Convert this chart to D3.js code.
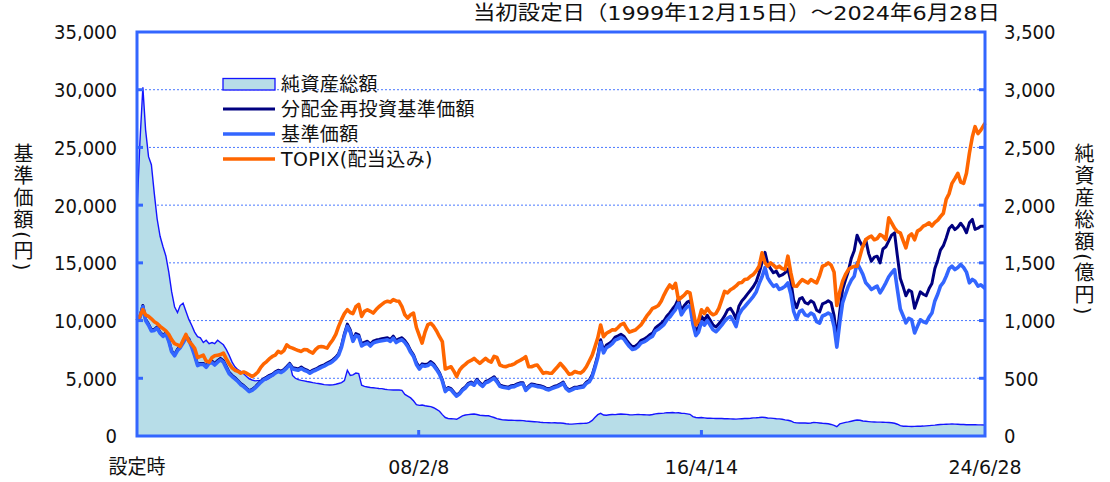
<!DOCTYPE html>
<html>
<head>
<meta charset="utf-8">
<script src="https://cdn.jsdelivr.net/npm/d3@7"></script>
<style>
  body { margin: 0; background: #fff; }
</style>
</head>
<body>
<svg id="chart" width="1110" height="482"></svg>
<script>
  // monthly points, 15th of each month, from launch to the last date
  const dates = ["1999-12-15",
    "2000-01","2000-02","2000-03","2000-04","2000-05","2000-06","2000-07","2000-08","2000-09","2000-10","2000-11","2000-12",
    "2001-01","2001-02","2001-03","2001-04","2001-05","2001-06","2001-07","2001-08","2001-09","2001-10","2001-11","2001-12",
    "2002-01","2002-02","2002-03","2002-04","2002-05","2002-06","2002-07","2002-08","2002-09","2002-10","2002-11","2002-12",
    "2003-01","2003-02","2003-03","2003-04","2003-05","2003-06","2003-07","2003-08","2003-09","2003-10","2003-11","2003-12",
    "2004-01","2004-02","2004-03","2004-04","2004-05","2004-06","2004-07","2004-08","2004-09","2004-10","2004-11","2004-12",
    "2005-01","2005-02","2005-03","2005-04","2005-05","2005-06","2005-07","2005-08","2005-09","2005-10","2005-11","2005-12",
    "2006-01","2006-02","2006-03","2006-04","2006-05","2006-06","2006-07","2006-08","2006-09","2006-10","2006-11","2006-12",
    "2007-01","2007-02","2007-03","2007-04","2007-05","2007-06","2007-07","2007-08","2007-09","2007-10","2007-11","2007-12",
    "2008-01","2008-02","2008-03","2008-04","2008-05","2008-06","2008-07","2008-08","2008-09","2008-10","2008-11","2008-12",
    "2009-01","2009-02","2009-03","2009-04","2009-05","2009-06","2009-07","2009-08","2009-09","2009-10","2009-11","2009-12",
    "2010-01","2010-02","2010-03","2010-04","2010-05","2010-06","2010-07","2010-08","2010-09","2010-10","2010-11","2010-12",
    "2011-01","2011-02","2011-03","2011-04","2011-05","2011-06","2011-07","2011-08","2011-09","2011-10","2011-11","2011-12",
    "2012-01","2012-02","2012-03","2012-04","2012-05","2012-06","2012-07","2012-08","2012-09","2012-10","2012-11","2012-12",
    "2013-01","2013-02","2013-03","2013-04","2013-05","2013-06","2013-07","2013-08","2013-09","2013-10","2013-11","2013-12",
    "2014-01","2014-02","2014-03","2014-04","2014-05","2014-06","2014-07","2014-08","2014-09","2014-10","2014-11","2014-12",
    "2015-01","2015-02","2015-03","2015-04","2015-05","2015-06","2015-07","2015-08","2015-09","2015-10","2015-11","2015-12",
    "2016-01","2016-02","2016-03","2016-04","2016-05","2016-06","2016-07","2016-08","2016-09","2016-10","2016-11","2016-12",
    "2017-01","2017-02","2017-03","2017-04","2017-05","2017-06","2017-07","2017-08","2017-09","2017-10","2017-11","2017-12",
    "2018-01","2018-02","2018-03","2018-04","2018-05","2018-06","2018-07","2018-08","2018-09","2018-10","2018-11","2018-12",
    "2019-01","2019-02","2019-03","2019-04","2019-05","2019-06","2019-07","2019-08","2019-09","2019-10","2019-11","2019-12",
    "2020-01","2020-02","2020-03","2020-04","2020-05","2020-06","2020-07","2020-08","2020-09","2020-10","2020-11","2020-12",
    "2021-01","2021-02","2021-03","2021-04","2021-05","2021-06","2021-07","2021-08","2021-09","2021-10","2021-11","2021-12",
    "2022-01","2022-02","2022-03","2022-04","2022-05","2022-06","2022-07","2022-08","2022-09","2022-10","2022-11","2022-12",
    "2023-01","2023-02","2023-03","2023-04","2023-05","2023-06","2023-07","2023-08","2023-09","2023-10","2023-11","2023-12",
    "2024-01","2024-02","2024-03","2024-04","2024-05","2024-06-28"];

  // 純資産総額 (億円)
  const netAssets = [1950,
    2550, 3020, 2650, 2420, 2350, 2100, 1880, 1730, 1640, 1560, 1420, 1250,
    1120, 1070, 1130, 1150, 1080, 1010, 960, 900, 860, 850, 810, 830,
    800, 810, 800, 830, 810, 790, 750, 700, 640, 600, 575, 560,
    540, 515, 495, 485, 478, 480, 482, 484, 486, 500, 520, 540,
    555, 560, 575, 590, 630, 525, 500, 488, 482, 478, 472, 468,
    462, 458, 455, 450, 445, 443, 442, 443, 448, 455, 462, 480,
    570, 525, 530, 545, 540, 440, 430, 425, 420, 418, 415, 412,
    410, 405, 402, 400, 398, 400, 398, 395, 360, 345, 330, 305,
    272, 265, 268, 262, 258, 254, 245, 230, 215, 185, 160, 152,
    150, 148, 145, 160, 175, 182, 185, 188, 190, 186, 180, 178,
    176, 175, 168, 160, 150, 145, 140, 139, 137, 136, 135, 134,
    134, 133, 130, 128, 126, 124, 122, 119, 117, 116, 115, 114,
    115, 113, 112, 110, 106, 104, 103, 105, 107, 108, 109, 110,
    118, 135, 160, 185, 196, 182, 180, 184, 186, 185, 188, 190,
    189, 187, 184, 183, 185, 186, 185, 184, 183, 182, 186, 192,
    195, 196, 198, 202, 201, 203, 200, 201, 197, 196, 192, 188,
    168, 160, 158, 160, 157, 154, 155, 153, 152, 151, 152, 150,
    149, 148, 147, 146, 148, 150, 151, 152, 154, 157, 158, 160,
    163, 160, 156, 155, 153, 150, 148, 145, 140, 136, 130, 118,
    114, 113, 112, 112, 110, 113, 118, 116, 113, 110, 108, 106,
    100, 92, 81, 105, 112, 118, 122, 128, 134, 139, 136, 130,
    128, 125, 122, 121, 120, 120, 119, 118, 117, 115, 110, 102,
    90, 85, 84, 83, 82, 83, 84, 85, 86, 88, 90, 92,
    94, 97, 100, 101, 102, 103, 104, 103, 102, 100, 99, 98,
    97, 98, 97, 96, 96, 95];

  // 分配金再投資基準価額 (円)
  const navReinvested = [10000,
    10350, 11310, 10100, 9700, 9190, 9240, 9440, 8990, 8720, 8940, 8280, 7370,
    7050, 7510, 7760, 8170, 8630, 8420, 7820, 7050, 6190, 6290, 6290, 6040,
    6430, 6480, 6270, 6530, 6730, 6530, 6020, 5510, 5250, 5050, 4810, 4540,
    4370, 4130, 3930, 4030, 4230, 4490, 4740, 4960, 5100, 5250, 5360, 5560,
    5700, 5610, 5760, 6020, 6290, 5920, 5870, 5810, 5970, 5810, 5710, 5550,
    5710, 5810, 5940, 6070, 6170, 6320, 6440, 6610, 6830, 7140, 7850, 8870,
    9690, 9180, 8360, 8870, 8770, 7960, 8110, 8210, 7960, 8210, 8310, 8360,
    8420, 8470, 8510, 8360, 8650, 8260, 8420, 8510, 8260, 7910, 7400, 7040,
    6360, 5950, 6250, 6200, 6250, 6450, 6250, 5890, 5480, 4870, 3950, 4200,
    4100, 3790, 3540, 3740, 4050, 4250, 4560, 4670, 4510, 4920, 4610, 4410,
    4720, 4820, 4970, 5130, 4820, 4410, 4330, 4280, 4230, 4360, 4390, 4510,
    4610, 4610, 4050, 4310, 4510, 4460, 4390, 4360, 4280, 4150, 4090, 4200,
    4310, 4390, 4510, 4670, 4200, 4000, 4100, 4230, 4250, 4310, 4360, 4660,
    4840, 5300, 6080, 7000, 8340, 7420, 7880, 8030, 8240, 8560, 8670, 8810,
    8650, 8290, 7980, 7730, 7780, 7970, 8290, 8390, 8550, 8760, 8910, 9370,
    9570, 9780, 9990, 10400, 10660, 11020, 11330, 11900, 10870, 11280, 11590, 11700,
    10140, 9090, 9410, 10350, 10030, 10450, 10050, 9610, 9450, 9720, 10030, 10400,
    10910, 11070, 10700, 10140, 11240, 11700, 11980, 12310, 12630, 12950, 13380, 14120,
    15040, 15910, 14930, 14500, 14140, 14280, 13840, 13950, 14140, 14450, 13410, 11770,
    11110, 11880, 11990, 11550, 11440, 11720, 11550, 10890, 10750, 11440, 11550, 11720,
    11550, 10430, 8470, 10780, 12680, 13530, 14280, 15390, 16050, 17400, 16820, 16380,
    17000, 15800, 15140, 15500, 15580, 15000, 16200, 16400, 16900, 17400, 17600, 15600,
    13640, 12900, 12150, 12650, 12490, 11070, 11780, 12490, 12280, 12150, 12770, 13210,
    14510, 15250, 16100, 16490, 17160, 17980, 18240, 17880, 18100, 18430, 18100, 17610,
    18470, 18760, 17900, 18000, 18180, 18180];

  // 基準価額 (円)
  const nav = [10000,
    10250, 11200, 10000, 9600, 9100, 9150, 9350, 8900, 8630, 8850, 8200, 7300,
    6950, 7400, 7650, 8050, 8500, 8300, 7700, 6950, 6100, 6200, 6200, 5950,
    6300, 6350, 6150, 6400, 6600, 6400, 5900, 5400, 5150, 4950, 4720, 4450,
    4280, 4050, 3850, 3950, 4150, 4400, 4650, 4860, 5000, 5150, 5250, 5450,
    5590, 5500, 5650, 5900, 6170, 5800, 5750, 5700, 5850, 5700, 5600, 5440,
    5600, 5700, 5820, 5950, 6050, 6200, 6310, 6480, 6700, 7000, 7700, 8700,
    9500, 9000, 8200, 8700, 8600, 7800, 7950, 8050, 7800, 8050, 8150, 8200,
    8250, 8300, 8340, 8200, 8480, 8100, 8250, 8340, 8100, 7750, 7250, 6900,
    6200, 5800, 6100, 6050, 6100, 6290, 6100, 5750, 5350, 4750, 3850, 4100,
    4000, 3700, 3450, 3650, 3950, 4150, 4450, 4560, 4400, 4800, 4500, 4300,
    4600, 4700, 4850, 5000, 4700, 4300, 4220, 4180, 4130, 4250, 4280, 4400,
    4500, 4500, 3950, 4200, 4400, 4350, 4280, 4250, 4180, 4050, 3990, 4100,
    4200, 4280, 4400, 4560, 4100, 3900, 4000, 4130, 4150, 4200, 4250, 4550,
    4700, 5150, 5900, 6800, 8100, 7200, 7650, 7800, 8000, 8310, 8420, 8550,
    8400, 8050, 7750, 7500, 7550, 7740, 8050, 8150, 8300, 8500, 8650, 9100,
    9250, 9450, 9650, 10050, 10300, 10650, 10950, 11500, 10500, 10900, 11200, 11300,
    9700, 8700, 9000, 9900, 9600, 10000, 9620, 9200, 9040, 9300, 9600, 9950,
    10200, 10350, 10000, 9480, 10500, 10930, 11200, 11500, 11800, 12100, 12500, 13200,
    13800, 14600, 13700, 13300, 12970, 13100, 12700, 12800, 12970, 13260, 12300, 10800,
    10100, 10800, 10900, 10500, 10400, 10650, 10500, 9900, 9770, 10400, 10500, 10650,
    10500, 9480, 7700, 9800, 11530, 12300, 12980, 13500, 13840, 15000, 14500, 14000,
    13270, 13000, 12690, 12850, 12980, 12400, 12800, 13270, 13800, 14130, 14420, 12690,
    11000, 10400, 9800, 10200, 10070, 8930, 9500, 10070, 9900, 9800, 10300, 10650,
    11700, 12300, 12980, 13300, 13840, 14500, 14710, 14420, 14600, 14860, 14600, 14200,
    13270, 13560, 13400, 12980, 13100, 12800];

  // TOPIX(配当込み), indexed to 10,000 at launch
  const topix = [10000,
    10400, 10940, 10500, 10360, 10150, 9900, 9750, 9500, 9300, 9100, 8800, 8350,
    8000, 7900, 7760, 8300, 8800, 8200, 7950, 7600, 6800, 6900, 7000, 6500,
    6400, 6800, 6950, 7000, 7050, 7180, 6700, 6250, 5900, 5700, 5600, 5440,
    5550, 5440, 5300, 5150, 5300, 5550, 5950, 6250, 6450, 6700, 6890, 7000,
    7330, 7200, 7400, 7900, 7700, 7610, 7500, 7400, 7330, 7500, 7470, 7300,
    7180, 7500, 7700, 7760, 7700, 7610, 8000, 8340, 8800, 9500, 10100, 10600,
    10940, 10700, 10600, 11200, 11400, 10360, 10800, 10940, 10800, 10650, 10950, 11200,
    11400, 11600, 11670, 11600, 11810, 11700, 11670, 11200, 10500, 10220, 10500, 10650,
    9400, 8700, 8050, 9000, 9650, 9760, 9500, 9100, 8600, 8170, 5800, 5900,
    6000, 5600, 5150, 5700, 6000, 6200, 6430, 6550, 6720, 6500, 6290, 6500,
    6720, 6500, 6400, 6900, 6800, 6150, 6050, 6000, 6100, 6150, 6250, 6430,
    6550, 6700, 6870, 6000, 6000, 6100, 6150, 5800, 5430, 5500, 5450, 5430,
    5720, 6000, 6290, 6000, 5700, 5350, 5400, 5580, 5500, 5450, 5650, 6000,
    6500, 7010, 7700, 8500, 9620, 8600, 8900, 9040, 9200, 9180, 9400, 9650,
    9760, 9300, 9000, 9100, 9180, 9400, 9620, 10000, 10400, 10700, 11060, 11150,
    11300, 11700, 12210, 12700, 13080, 12800, 13220, 11800, 12000, 12200, 12500, 12400,
    11000, 9620, 10000, 10930, 10600, 11060, 10700, 10500, 10620, 11060, 11800, 12530,
    12400, 12670, 12800, 13000, 13260, 13300, 13550, 13600, 13840, 14000, 14300, 14710,
    15870, 15000, 14710, 15000, 14800, 14570, 14710, 14500, 14420, 15580, 14130, 13000,
    12970, 13300, 13550, 13400, 13260, 13550, 13400, 13260, 13900, 14710, 14800, 15000,
    14800, 14200, 11300, 12500, 13400, 14000, 14420, 14600, 14700, 14700, 15600, 16450,
    17020, 17200, 17310, 17000, 17100, 17450, 17300, 17020, 18900, 18470, 18000, 17700,
    17600, 16900, 16300, 17310, 17500, 17000, 17750, 17900, 18180, 18300, 18470, 18200,
    18500, 18700, 19000, 19300, 20500, 21000, 21890, 22300, 22760, 22000, 21890, 22760,
    24500, 25900, 26800, 26200, 26500, 27100];

  const leftTicks = [0, 5000, 10000, 15000, 20000, 25000, 30000, 35000];
  const rightTicks = [0, 500, 1000, 1500, 2000, 2500, 3000, 3500];
  const xLabelDates = ["1999-12-15", "2008-02-08", "2016-04-14", "2024-06-28"];
  const xLabels = ["設定時", "08/2/8", "16/4/14", "24/6/28"];
  const legendNames = ["純資産総額", "分配金再投資基準価額", "基準価額", "TOPIX(配当込み)"];
  const titleText = "当初設定日（1999年12月15日）～2024年6月28日";
  const leftTitle = "基準価額(円)";
  const rightTitle = "純資産総額(億円)";

  const frameBlue = "#3366ff";
  const colors = { area: "#b7dde8", areaLine: "#1414ff", navy: "#000080", blue: "#3366ff", orange: "#ff6600" };
  const numFont = "'DejaVu Sans', 'Noto Sans CJK JP', sans-serif";

  const parse = d3.timeParse("%Y-%m-%d");
  const toDate = s => parse(s.length === 7 ? s + "-15" : s);
  const time = dates.map(toDate);

  const plotLeft = 137, plotRight = 985, plotTop = 32, plotBottom = 436;

  const x = d3.scaleTime().domain([toDate(dates[0]), toDate(dates[dates.length - 1])]).range([plotLeft, plotRight]);
  const yL = d3.scaleLinear().domain([0, 35000]).range([plotBottom, plotTop]);
  const yR = d3.scaleLinear().domain([0, 3500]).range([plotBottom, plotTop]);

  const svg = d3.select("#chart");

  function txt(px, py, s, anchor, size, sx, spacing) {
    return svg.append("text")
      .attr("transform", `translate(${px},${py}) scale(${sx},1)`)
      .attr("text-anchor", anchor)
      .attr("dominant-baseline", "central")
      .style("font-family", numFont)
      .style("font-size", size + "px")
      .style("letter-spacing", (spacing || 0) + "px")
      .attr("fill", "#111")
      .text(s);
  }

  // gridlines
  svg.append("g")
    .selectAll("line")
    .data(leftTicks.slice(1, -1))
    .enter()
    .append("line")
    .attr("x1", plotLeft).attr("x2", plotRight)
    .attr("y1", d => yL(d)).attr("y2", d => yL(d))
    .attr("stroke", "#4a78ff")
    .attr("stroke-width", 1)
    .attr("stroke-dasharray", "2,2");

  // 純資産総額 area
  const areaData = time.map((t, i) => ({ t: t, v: netAssets[i] }));
  svg.append("path")
    .datum(areaData)
    .attr("fill", colors.area)
    .attr("d", d3.area().x(d => x(d.t)).y0(plotBottom).y1(d => yR(d.v)));
  svg.append("path")
    .datum(areaData)
    .attr("fill", "none")
    .attr("stroke", colors.areaLine)
    .attr("stroke-width", 1.4)
    .attr("d", d3.line().x(d => x(d.t)).y(d => yR(d.v)));

  // price lines
  const series = [
    { values: navReinvested, color: colors.navy, width: 3 },
    { values: nav, color: colors.blue, width: 3.6 },
    { values: topix, color: colors.orange, width: 3.6 }
  ];
  const line = d3.line().x(d => x(d.t)).y(d => yL(d.v));
  series.forEach(s => {
    svg.append("path")
      .datum(time.map((t, i) => ({ t: t, v: s.values[i] })))
      .attr("fill", "none")
      .attr("stroke", s.color)
      .attr("stroke-width", s.width)
      .attr("stroke-linejoin", "round")
      .attr("d", line);
  });

  // frame and ticks
  svg.append("rect")
    .attr("x", plotLeft).attr("y", plotTop)
    .attr("width", plotRight - plotLeft).attr("height", plotBottom - plotTop)
    .attr("fill", "none")
    .attr("stroke", frameBlue)
    .attr("stroke-width", 3);

  const tickLen = 6;
  svg.append("g").selectAll("line")
    .data(leftTicks.slice(1, -1))
    .enter().append("line")
    .attr("x1", plotLeft).attr("x2", plotLeft + tickLen)
    .attr("y1", d => yL(d)).attr("y2", d => yL(d))
    .attr("stroke", frameBlue).attr("stroke-width", 3);
  svg.append("g").selectAll("line")
    .data(rightTicks.slice(1, -1))
    .enter().append("line")
    .attr("x1", plotRight - tickLen).attr("x2", plotRight)
    .attr("y1", d => yR(d)).attr("y2", d => yR(d))
    .attr("stroke", frameBlue).attr("stroke-width", 3);
  svg.append("g").selectAll("line")
    .data(xLabelDates.slice(1, -1))
    .enter().append("line")
    .attr("x1", d => x(toDate(d))).attr("x2", d => x(toDate(d)))
    .attr("y1", plotBottom).attr("y2", plotBottom - tickLen)
    .attr("stroke", frameBlue).attr("stroke-width", 3);

  // tick labels
  leftTicks.forEach(v => txt(117, yL(v), d3.format(",")(v), "end", 20, 0.9));
  rightTicks.forEach(v => txt(1004, yR(v), d3.format(",")(v), "start", 20, 0.9));
  xLabels.forEach((s, i) => txt(x(toDate(xLabelDates[i])), 467, s, "middle", 20, 0.95));

  // title
  txt(1000, 13, titleText, "end", 20, 1.12);

  // axis titles, written vertically
  [[22, 143, leftTitle], [1083, 143, rightTitle]].forEach(([px, py, s]) => {
    svg.append("text")
      .attr("x", px).attr("y", py)
      .style("writing-mode", "vertical-rl")
      .style("text-orientation", "mixed")
      .style("font-family", numFont)
      .style("font-size", "20px")
      .style("letter-spacing", "2px")
      .attr("fill", "#111")
      .text(s);
  });

  // legend
  const legY = [84, 109, 134, 159];
  svg.append("rect")
    .attr("x", 223).attr("y", 78.5).attr("width", 52).attr("height", 11.5)
    .attr("fill", colors.area).attr("stroke", colors.areaLine).attr("stroke-width", 1.3);
  [colors.navy, colors.blue, colors.orange].forEach((c, i) => {
    svg.append("line")
      .attr("x1", 223).attr("x2", 275)
      .attr("y1", legY[i + 1]).attr("y2", legY[i + 1])
      .attr("stroke", c).attr("stroke-width", i === 0 ? 3 : 3.5);
  });
  legendNames.forEach((s, i) => txt(281, legY[i], s, "start", 19, 1, 0.4));
</script>
</body>
</html>
